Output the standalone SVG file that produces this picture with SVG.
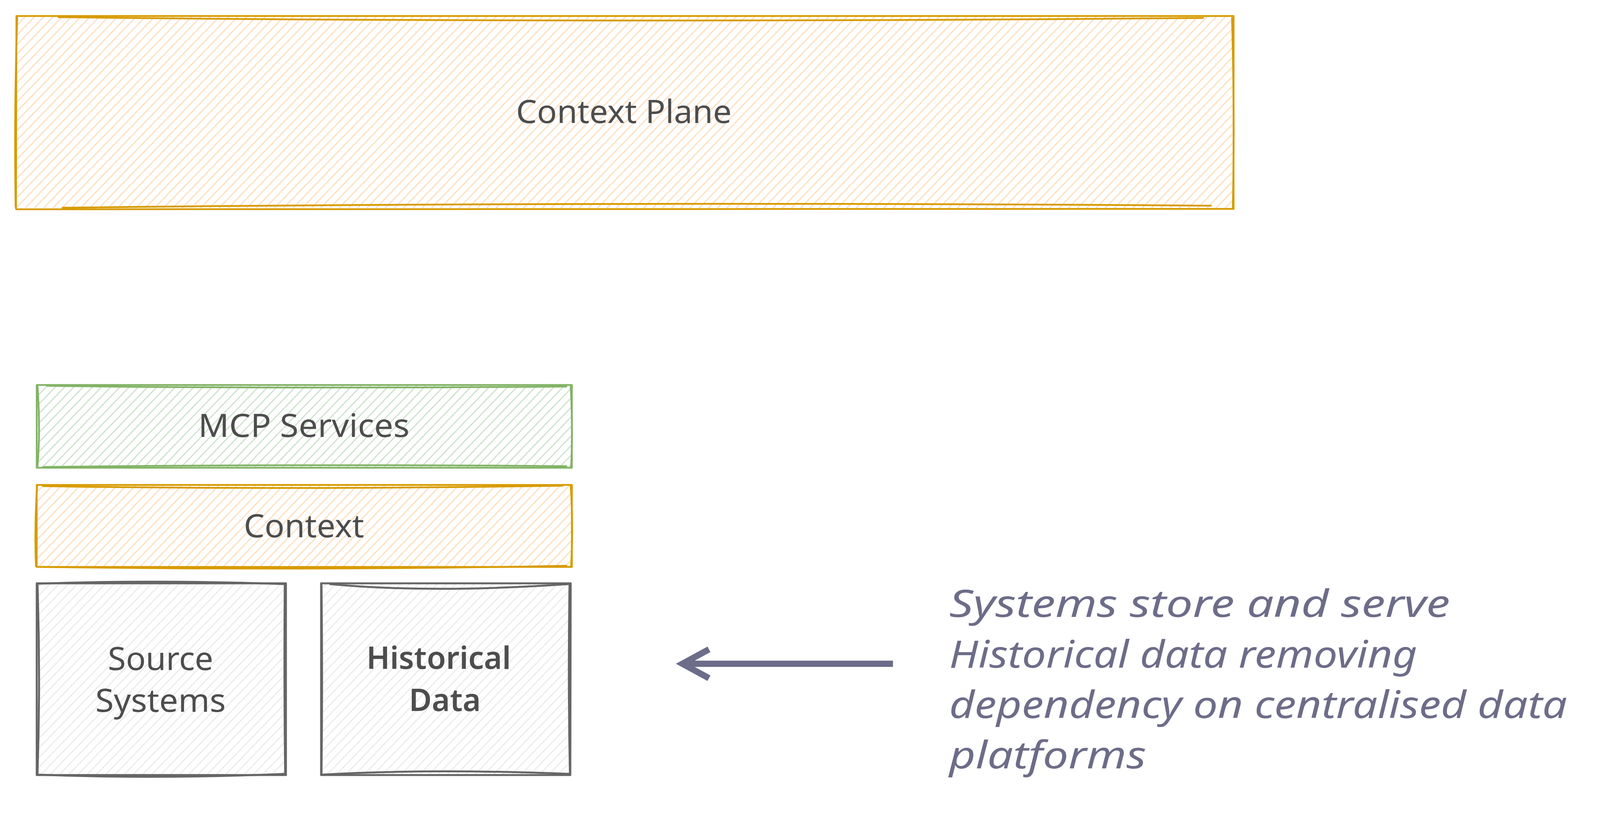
<svg xmlns="http://www.w3.org/2000/svg" width="4120" height="2136" viewBox="0 0 4120 2136">
<defs>
<pattern id="hOrange" width="17" height="17" patternUnits="userSpaceOnUse" patternTransform="rotate(44)">
<line x1="8.5" y1="-2" x2="8.5" y2="19" stroke="#fddcba" stroke-width="2.8"/>
</pattern>
<pattern id="hGreen" width="17" height="17" patternUnits="userSpaceOnUse" patternTransform="rotate(44)">
<line x1="8.5" y1="-2" x2="8.5" y2="19" stroke="#c9e1c7" stroke-width="2.8"/>
</pattern>
<pattern id="hGray" width="17" height="17" patternUnits="userSpaceOnUse" patternTransform="rotate(44)">
<line x1="8.5" y1="-2" x2="8.5" y2="19" stroke="#e9e9e9" stroke-width="2.6"/>
</pattern>
</defs>
<style>
.edge{fill:none;stroke-linecap:round;stroke-linejoin:round}
.orange{stroke:#d79b00;stroke-width:4.5}
.green{stroke:#82b366;stroke-width:4.5}
.gray{stroke:#666666;stroke-width:5}
.lbl{font-family:"Noto Sans","Open Sans","Liberation Sans",sans-serif;font-size:82px;fill:#4d4d4d}
.hand{font-family:"Noto Sans","Liberation Sans",sans-serif;font-size:80px;font-weight:600;fill:#4d4d4d}
.note{font-family:"Noto Sans","Liberation Sans",sans-serif;font-style:italic;font-size:96px;fill:#6d6c89}
</style>
<rect width="4120" height="2136" fill="#ffffff"/>

<g id="context-plane">
<rect x="44" y="43" width="3111" height="490" fill="url(#hOrange)"/>
<path class="edge orange" d="M42,41 L3157,41 M3158,41 L3158,535 M3157,535 L42,536 M41,535 L42,41"/>
<path class="edge orange" d="M150,44 Q1500,60 3080,46 M3154,46 Q3161,300 3156,532 M3100,527 Q1600,515 160,532 M40,530 Q36,300 44,45"/>
<text class="lbl" x="1597" y="315" text-anchor="middle" textLength="552" lengthAdjust="spacingAndGlyphs">Context Plane</text>
</g>

<g id="mcp-services">
<rect x="96" y="988" width="1366" height="208" fill="url(#hGreen)"/>
<path class="edge green" d="M94,986 L1464,986 M1464,987 L1464,1198 M1464,1198 L94,1198 M94,1198 L94,986"/>
<path class="edge green" d="M120,988 Q700,996 1450,990 M1461,990 Q1467,1100 1462,1196 M1450,1194 Q800,1188 110,1196 M96,1194 Q104,1100 96,988"/>
<text class="lbl" x="778" y="1119" text-anchor="middle" textLength="541" lengthAdjust="spacingAndGlyphs">MCP Services</text>
</g>

<g id="context">
<rect x="96" y="1244" width="1366" height="206" fill="url(#hOrange)"/>
<path class="edge orange" d="M94,1242 L1464,1242 M1464,1242 L1464,1452 M1464,1452 L94,1452 M94,1452 L94,1242"/>
<path class="edge orange" d="M110,1245 Q700,1255 1440,1244 M1461,1245 Q1468,1350 1462,1450 M1450,1449 Q800,1462 110,1452 M92,1450 Q88,1350 95,1244"/>
<text class="lbl" x="778" y="1376" text-anchor="middle" textLength="308" lengthAdjust="spacingAndGlyphs">Context</text>
</g>

<g id="source-systems">
<rect x="96" y="1496" width="634" height="487" fill="url(#hGray)"/>
<path class="edge gray" d="M94,1494 L732,1494 M732,1494 L732,1985 M732,1985 L94,1985 M94,1985 L94,1494"/>
<path class="edge gray" d="M96,1495 Q400,1484 730,1496 M729,1497 Q727,1740 730,1983 M730,1982 Q400,1996 96,1984 M96,1984 Q104,1740 96,1496"/>
<text class="lbl" x="411" y="1716" text-anchor="middle" textLength="270" lengthAdjust="spacingAndGlyphs">Source</text>
<text class="lbl" x="411" y="1823" text-anchor="middle" textLength="334" lengthAdjust="spacingAndGlyphs">Systems</text>
</g>

<g id="historical-data">
<rect x="824" y="1496" width="635" height="487" fill="url(#hGray)"/>
<path class="edge gray" d="M822,1494 L1461,1494 M1461,1494 L1460,1985 M1460,1985 L822,1985 M822,1985 L822,1494"/>
<path class="edge gray" d="M845,1496 Q1100,1520 1455,1496 M1458,1497 Q1454,1740 1459,1983 M1459,1982 Q1100,1968 823,1984 M823,1983 Q826,1740 823,1496"/>
<text class="hand" x="938" y="1713" textLength="370" lengthAdjust="spacingAndGlyphs">Historical</text>
<text class="hand" x="1047" y="1821" textLength="184" lengthAdjust="spacingAndGlyphs">Data</text>
</g>

<g id="connectors">
<path d="M2286,1700 L1752,1700" fill="none" stroke="#6d6c89" stroke-width="16" stroke-linecap="butt"/>
<path d="M1815,1663 L1747,1700 L1815,1737" fill="none" stroke="#6d6c89" stroke-width="16" stroke-linecap="butt" stroke-linejoin="miter"/>
</g>

<g id="annotation">
<text class="note" x="2430" y="1580" textLength="1282" lengthAdjust="spacingAndGlyphs">Systems store and serve</text>
<text class="note" x="2430" y="1710" textLength="1198" lengthAdjust="spacingAndGlyphs">Historical data removing</text>
<text class="note" x="2430" y="1839" textLength="1582" lengthAdjust="spacingAndGlyphs">dependency on centralised data</text>
<text class="note" x="2430" y="1968" textLength="504" lengthAdjust="spacingAndGlyphs">platforms</text>
</g>
</svg>
